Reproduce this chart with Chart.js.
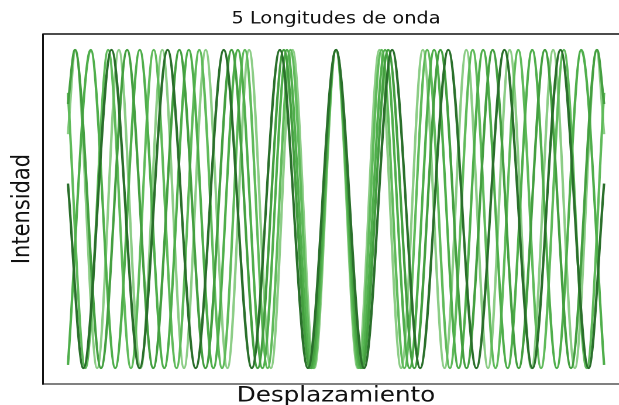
<!DOCTYPE html>
<html>
<head>
<meta charset="utf-8">
<script src="https://cdn.jsdelivr.net/npm/chart.js@4/dist/chart.umd.min.js"></script>
<style>
  html, body { margin: 0; padding: 0; background: #fff; overflow: hidden; width: 619px; height: 405px; }
  #wrap { position: absolute; left: 0; top: 0; width: 600px; height: 405px;
          transform: scaleX(1.17); transform-origin: 0 0; }
</style>
</head>
<body>
<div id="wrap"><canvas id="c"></canvas></div>
<script>
// Extrema positions (x) and values (y), for the 5 waves
const x1 = [-10, -9.72, -8.91, -8.10, -7.29, -6.48, -5.67, -4.86, -4.05, -3.24, -2.43, -1.62, -0.81, 0, 0.81, 1.62, 2.43, 3.24, 4.05, 4.86, 5.67, 6.48, 7.29, 8.10, 8.91, 9.72, 10];
const y1 = [0.47, 1, -1, 1, -1, 1, -1, 1, -1, 1, -1, 1, -1, 1, -1, 1, -1, 1, -1, 1, -1, 1, -1, 1, -1, 1, 0.47];

const x2 = [-10, -9.35, -8.50, -7.65, -6.80, -5.95, -5.10, -4.25, -3.40, -2.55, -1.70, -0.85, 0, 0.85, 1.70, 2.55, 3.40, 4.25, 5.10, 5.95, 6.80, 7.65, 8.50, 9.35, 10];
const y2 = [0.73, -1, 1, -1, 1, -1, 1, -1, 1, -1, 1, -1, 1, -1, 1, -1, 1, -1, 1, -1, 1, -1, 1, -1, 0.73];

const x3 = [-10, -9.15, -8.235, -7.32, -6.405, -5.49, -4.575, -3.66, -2.745, -1.83, -0.915, 0, 0.915, 1.83, 2.745, 3.66, 4.575, 5.49, 6.405, 7.32, 8.235, 9.15, 10];
const y3 = [-0.98, 1, -1, 1, -1, 1, -1, 1, -1, 1, -1, 1, -1, 1, -1, 1, -1, 1, -1, 1, -1, 1, -0.98];

const x4 = [-10, -9.74, -8.766, -7.792, -6.818, -5.844, -4.87, -3.896, -2.922, -1.948, -0.974, 0, 0.974, 1.948, 2.922, 3.896, 4.87, 5.844, 6.818, 7.792, 8.766, 9.74, 10];
const y4 = [0.66, 1, -1, 1, -1, 1, -1, 1, -1, 1, -1, 1, -1, 1, -1, 1, -1, 1, -1, 1, -1, 1, 0.66];

const x5 = [-10, -9.423, -8.376, -7.329, -6.282, -5.235, -4.188, -3.141, -2.094, -1.047, 0, 1.047, 2.094, 3.141, 4.188, 5.235, 6.282, 7.329, 8.376, 9.423, 10];
const y5 = [0.16, -1, 1, -1, 1, -1, 1, -1, 1, -1, 1, -1, 1, -1, 1, -1, 1, -1, 1, -1, 0.16];

const seriesX = [x5, x4, x3, x2, x1];
const seriesY = [y5, y4, y3, y2, y1];
const colors = ['#2a6f2b', '#449f40', '#4fae4b', '#5fba5a', '#8ccd86'];

const titleText = '5 Longitudes de onda';
const xTitle = 'Desplazamiento';
const yTitle = 'Intensidad';

const datasets = seriesX.map((xs, i) => ({
  data: xs.map((x, j) => ({ x: x, y: seriesY[i][j] })),
  borderColor: colors[i],
  borderWidth: 2.1,
  pointRadius: 0,
  fill: false,
  cubicInterpolationMode: 'monotone'
}));

const topSpine = {
  id: 'topSpine',
  afterDraw(chart) {
    const { ctx, chartArea } = chart;
    ctx.save();
    ctx.strokeStyle = '#111';
    ctx.lineWidth = 1.5;
    ctx.beginPath();
    ctx.moveTo(chartArea.left, chartArea.top);
    ctx.lineTo(chartArea.right, chartArea.top);
    ctx.stroke();
    ctx.restore();
  }
};

new Chart(document.getElementById('c'), {
  type: 'line',
  data: { datasets },
  plugins: [topSpine],
  options: {
    responsive: true,
    maintainAspectRatio: false,
    animation: false,
    devicePixelRatio: 2,
    layout: { padding: { left: 0, right: 62.4, top: 0, bottom: 0 } },
    plugins: {
      legend: { display: false },
      tooltip: { enabled: false },
      title: {
        display: true,
        text: titleText,
        fullSize: false,
        color: '#111',
        font: { family: 'DejaVu Sans', size: 16.5, weight: 'normal', lineHeight: 1.2 },
        padding: { top: 9.3, bottom: 4.9 }
      }
    },
    scales: {
      x: {
        type: 'linear',
        min: -10.93,
        max: 10.93,
        grid: { display: false, drawTicks: false },
        ticks: { display: false },
        border: { display: true, color: '#808080', width: 2 },
        title: {
          display: true,
          text: xTitle,
          color: '#111',
          font: { family: 'DejaVu Sans', size: 21, lineHeight: 0.85 },
          padding: { top: 3.15, bottom: 0 }
        }
      },
      y: {
        type: 'linear',
        min: -1.1,
        max: 1.1,
        grid: { display: false, drawTicks: false },
        ticks: { display: false },
        border: { display: true, color: '#111', width: 1.5 },
        title: {
          display: true,
          text: yTitle,
          color: '#111',
          font: { family: 'DejaVu Sans', size: 21, lineHeight: 1.0 },
          padding: { top: 9.2, bottom: 6.55 }
        }
      }
    }
  }
});
</script>
</body>
</html>
